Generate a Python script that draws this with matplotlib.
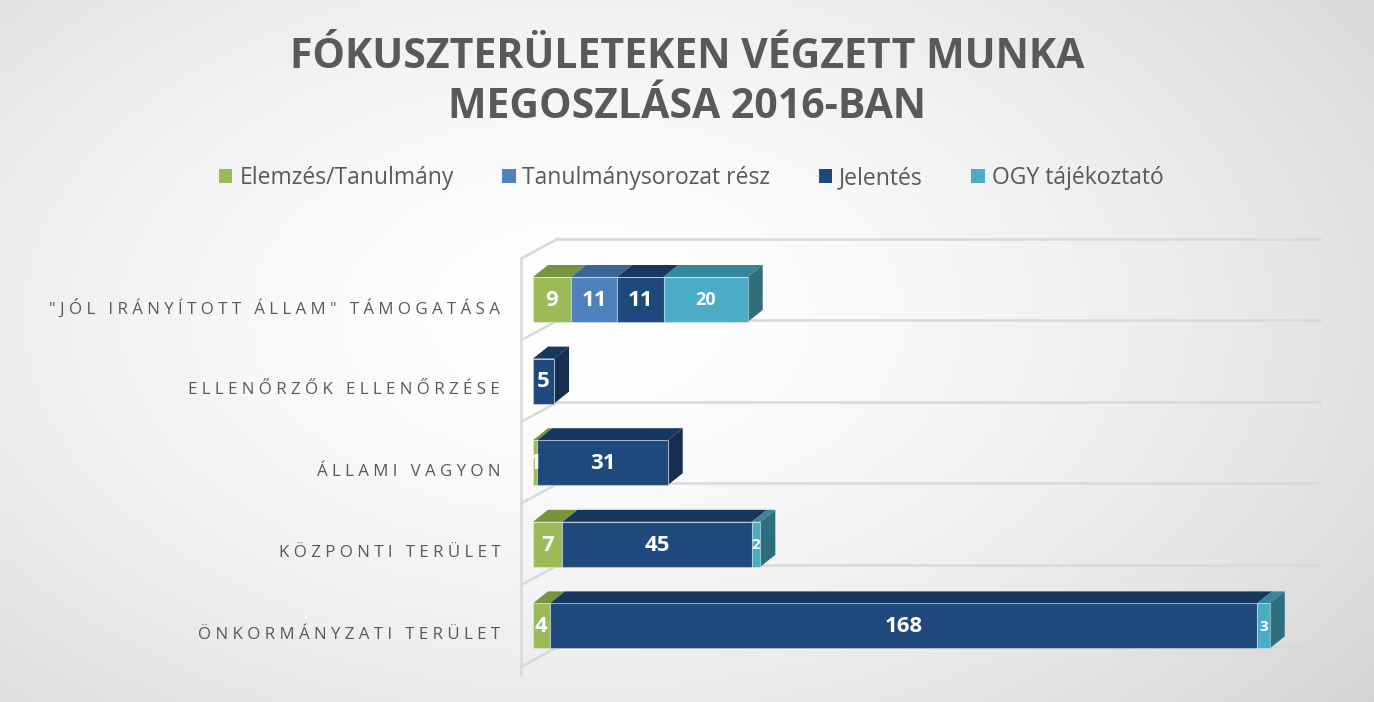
import numpy as np
import matplotlib
matplotlib.use("Agg")
import matplotlib.pyplot as plt
from matplotlib.patches import Patch

# adatok
kategoriak = ['"JÓL IRÁNYÍTOTT ÁLLAM" TÁMOGATÁSA', 'ELLENŐRZŐK ELLENŐRZÉSE', 'ÁLLAMI VAGYON',
              'KÖZPONTI TERÜLET', 'ÖNKORMÁNYZATI TERÜLET']
sorozatok = ['Elemzés/Tanulmány', 'Tanulmánysorozat rész', 'Jelentés', 'OGY tájékoztató']
elemzes = [9, 0, 1, 7, 4]
tanulmanysorozat = [11, 0, 0, 0, 0]
jelentes = [11, 5, 31, 45, 168]
ogy = [20, 0, 0, 2, 3]
ertekek = [elemzes, tanulmanysorozat, jelentes, ogy]

c_front = ['#9BBB59', '#4F81BD', '#1F497D', '#4BACC6']
c_top = ['#77933C', '#3B6594', '#17375E', '#37879B']
c_side = ['#5F7530', '#2C4D74', '#162F50', '#2F6F7D']
szurke = '#595959'

plt.rcParams['font.family'] = ['Open Sans', 'DejaVu Sans']

W, H = 1374, 702
fig = plt.figure(figsize=(W / 100, H / 100), dpi=100)

# hatter: radialis atmenet
bg = fig.add_axes([0, 0, 1, 1], zorder=-10)
X, Y = np.meshgrid(np.linspace(0, 1, 400), np.linspace(0, 1, 200))
r = np.sqrt(((X - 0.42) / 0.75) ** 2 + ((Y - 0.45) / 0.9) ** 2)
g = 1.0 - 0.17 * np.clip(r, 0, 1.2) ** 1.6
bg.imshow(np.dstack([g, g, g]), aspect='auto', extent=[0, 1, 1, 0])
bg.axis('off')

# fo tengely: x = ertek, y = kategoria index
px_x, px_y = 4.21, 81.6   # pixel / egyseg
x0, x1 = -4, 190
y_top, y_bot = -1.0, 4.75
left = (533 + x0 * px_x) / W
width = (x1 - x0) * px_x / W
bottom = (H - (299.5 + y_bot * px_y)) / H
height = (y_bot - y_top) * px_y / H
ax = fig.add_axes([left, bottom, width, height])
ax.set_xlim(x0, x1)
ax.set_ylim(y_bot, y_top)
ax.axis('off')

# "3D" falak
wfx, wbx = -12 / px_x, 25 / px_x
wdy = -20 / px_y
racs = '#D9D9D9'
hatarok = np.arange(-0.5, 5.0, 1.0)
for b in hatarok:
    ax.plot([wbx, 187], [b + wdy, b + wdy], color=racs, lw=1.8, zorder=1)
    ax.plot([wfx, wbx], [b, b + wdy], color=racs, lw=1.8, zorder=1)
ax.plot([wfx, wfx], [-0.5, 4.6], color=racs, lw=1.8, zorder=1)

# oszlopok
bh = 45 / px_y
dx, dy = 15 / px_x, -12 / px_y
y = np.arange(len(kategoriak))
bal = np.zeros(len(kategoriak))
utolso = np.zeros(len(kategoriak), dtype=int)
for s in range(len(sorozatok)):
    for i in range(len(kategoriak)):
        if ertekek[s][i] > 0:
            utolso[i] = s

for s, vals in enumerate(ertekek):
    vals = np.array(vals, dtype=float)
    ax.barh(y, vals, left=bal, height=bh, color=c_front[s], edgecolor=(1, 1, 1, 0.35),
            linewidth=0.8, zorder=3)
    for i in range(len(kategoriak)):
        v = vals[i]
        if v <= 0:
            continue
        l, rr = bal[i], bal[i] + v
        t, b = y[i] - bh / 2, y[i] + bh / 2
        ax.fill([l, rr, rr + dx, l + dx], [t, t, t + dy, t + dy], color=c_top[s], lw=0, zorder=2)
        if utolso[i] == s:
            ax.fill([rr, rr, rr + dx, rr + dx], [t, b, b + dy, t + dy], color=c_side[s], lw=0, zorder=2)
        if s == 3 and v < 5:
            fs = 11
        elif s == 3:
            fs = 13
        else:
            fs = 16
        ax.text(l + v / 2, y[i] + 0.01, f'{int(v)}', ha='center', va='center', color='white',
                fontsize=fs, fontweight='bold', zorder=5)
    bal += vals

# kategoria feliratok ritkitott betukkel
def ritkit(s):
    return ' '.join(s)

for i, k in enumerate(kategoriak):
    ax.text(-7.8, y[i] + 0.11, ritkit(k), ha='right', va='center', color=szurke, fontsize=12.2,
            clip_on=False)

# cim
fig.text(0.5, 1 - 57 / H, 'FÓKUSZTERÜLETEKEN VÉGZETT MUNKA', ha='center', va='center',
         fontsize=29.5, fontweight='bold', color=szurke)
fig.text(0.5, 1 - 108 / H, 'MEGOSZLÁSA 2016-BAN', ha='center', va='center',
         fontsize=29.5, fontweight='bold', color=szurke)

# jelmagyarazat
kezek = [Patch(facecolor=c, edgecolor='none') for c in c_front]
fig.legend(kezek, sorozatok, loc='center', bbox_to_anchor=(0.503, 1 - 178 / H), ncol=4,
           frameon=False, fontsize=16.5, handlelength=0.6, handleheight=0.6, handletextpad=0.3,
           columnspacing=2.1, labelcolor=szurke)

fig.savefig('out.png', dpi=100)
